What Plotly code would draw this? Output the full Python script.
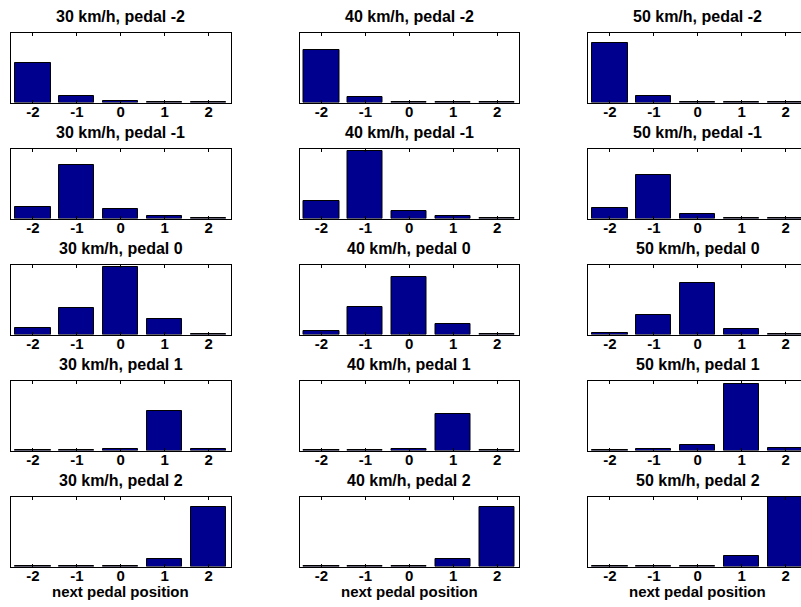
import plotly.graph_objects as go

# next pedal position categories (x axis of every panel)
next_pedal = [-2, -1, 0, 1, 2]
tick_text = ["-2", "-1", "0", "1", "2"]

speeds = [30, 40, 50]
current_pedal = [-2, -1, 0, 1, 2]

# Relative transition frequency, one row per current pedal position (-2 .. 2)
probs_30 = [
    [0.565, 0.100, 0.015, 0.003, 0.002],
    [0.170, 0.766, 0.130, 0.034, 0.005],
    [0.095, 0.385, 0.975, 0.225, 0.005],
    [0.003, 0.005, 0.025, 0.570, 0.025],
    [0.002, 0.003, 0.010, 0.110, 0.855],
]
probs_40 = [
    [0.760, 0.083, 0.010, 0.003, 0.001],
    [0.254, 0.976, 0.107, 0.034, 0.003],
    [0.044, 0.390, 0.830, 0.148, 0.003],
    [0.002, 0.005, 0.025, 0.520, 0.010],
    [0.002, 0.003, 0.010, 0.115, 0.855],
]
probs_50 = [
    [0.860, 0.100, 0.005, 0.002, 0.001],
    [0.146, 0.630, 0.059, 0.008, 0.003],
    [0.025, 0.280, 0.740, 0.080, 0.005],
    [0.003, 0.015, 0.080, 0.960, 0.035],
    [0.002, 0.010, 0.010, 0.145, 1.000],
]
probs_by_speed = [probs_30, probs_40, probs_50]

W, H = 801, 607
FONT = "Liberation Sans, Arial, Helvetica, sans-serif"
BAR_COLOR = "#00008F"

# panel geometry in pixels
col_left = [11.0, 299.5, 588.0]
panel_w = 219.5
row_top0, row_pitch, panel_h = 33.0, 116.0, 69.5
unit_px = panel_w / 5.0

fig = go.Figure()
annotations = []

for r, pedal in enumerate(current_pedal):
    top_px = row_top0 + row_pitch * r
    bot_px = top_px + panel_h
    for c, speed in enumerate(speeds):
        idx = r * 3 + c + 1
        xa = "x" if idx == 1 else f"x{idx}"
        ya = "y" if idx == 1 else f"y{idx}"
        left_px = col_left[c]
        right_px = min(left_px + panel_w, W)
        x_hi = -2.5 + (right_px - left_px) / unit_px

        fig.add_trace(go.Bar(
            x=next_pedal, y=probs_by_speed[c][r], width=0.8,
            marker=dict(color=BAR_COLOR, line=dict(color="black", width=1)),
            xaxis=xa, yaxis=ya, showlegend=False, hoverinfo="skip",
        ))

        last_col = right_px >= W
        fig.layout[("xaxis" if idx == 1 else f"xaxis{idx}")] = dict(
            domain=[left_px / W, right_px / W],
            anchor=ya, range=[-2.5, x_hi], fixedrange=True,
            tickmode="array", tickvals=next_pedal, ticktext=tick_text,
            ticks="inside", ticklen=3, tickcolor="black", tickwidth=1,
            ticklabelstandoff=-5,
            showline=True, linecolor="black", linewidth=1, mirror="ticks",
            showgrid=False, zeroline=False,
            tickfont=dict(family=FONT, size=15, color="black", weight="bold"),
        )
        fig.layout[("yaxis" if idx == 1 else f"yaxis{idx}")] = dict(
            domain=[1 - bot_px / H, 1 - top_px / H],
            anchor=xa, range=[0, 1], fixedrange=True,
            showticklabels=False, ticks="",
            showline=True, linecolor="black", linewidth=1,
            mirror=False if last_col else True,
            showgrid=False, zeroline=False,
        )

        cx = (left_px + panel_w / 2) / W
        annotations.append(dict(
            text=f"{speed} km/h, pedal {pedal}", xref="paper", yref="paper",
            x=cx, y=1 - top_px / H, xanchor="center", yanchor="bottom",
            yshift=6, showarrow=False,
            font=dict(family=FONT, size=16, color="black", weight="bold"),
        ))
        if r == len(current_pedal) - 1:
            annotations.append(dict(
                text="next pedal position", xref="paper", yref="paper",
                x=cx, y=1 - bot_px / H, xanchor="center", yanchor="top",
                yshift=-14, showarrow=False,
                font=dict(family=FONT, size=15, color="black", weight="bold"),
            ))

fig.update_layout(
    width=W, height=H, margin=dict(l=0, r=0, t=0, b=0),
    paper_bgcolor="white", plot_bgcolor="white",
    annotations=annotations, bargap=0,
)

fig.write_html("out.html", config={"displayModeBar": False})
